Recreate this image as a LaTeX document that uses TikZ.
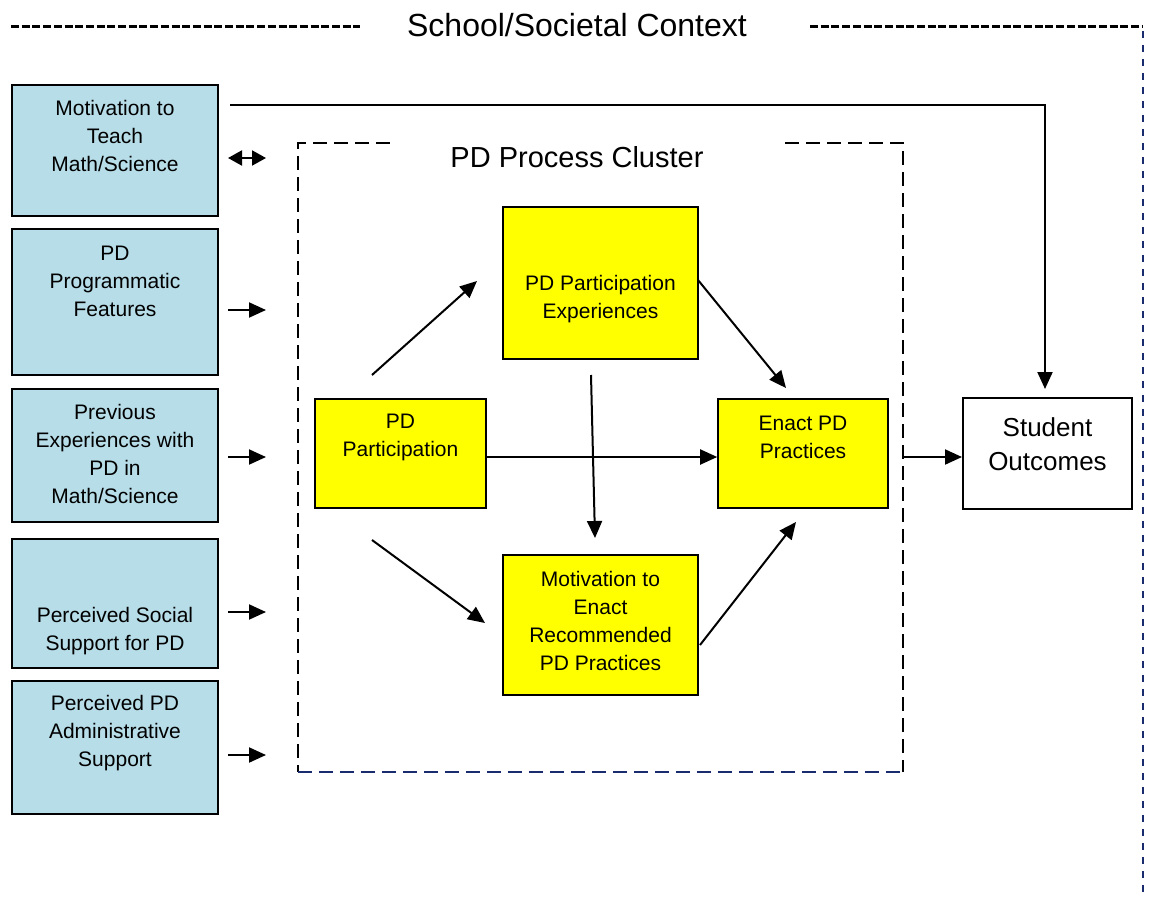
\documentclass[tikz,border=0pt]{standalone}
\usepackage{fontspec}
\setmainfont{Liberation Sans}
\usetikzlibrary{arrows.meta}
\definecolor{boxblue}{RGB}{183,221,232}
\definecolor{navyline}{RGB}{25,45,110}
\definecolor{yellowbox}{RGB}{255,255,0}
\begin{document}
\begin{tikzpicture}[x=1pt,y=-1pt,
  sidebox/.style={draw=black,line width=2pt,fill=boxblue,minimum width=206pt,inner sep=0pt},
  yelbox/.style={draw=black,line width=1.6pt,fill=yellowbox,inner sep=0pt},
  outbox/.style={draw=black,line width=2pt,fill=white,inner sep=0pt},
  boxtext/.style={align=center,inner sep=0pt,font=\fontsize{21}{28}\selectfont},
  arr/.style={line width=2pt,-{Triangle[length=17pt,width=15pt]}},
  dblarr/.style={line width=2pt,{Triangle[length=14pt,width=15pt]}-{Triangle[length=14pt,width=15pt]}},
  framedash/.style={line width=3pt,dash pattern=on 8pt off 2.7pt},
  sidedash/.style={line width=2.8pt,navyline,dash pattern=on 7pt off 7pt},
  clusterdash/.style={line width=2pt,dash pattern=on 14pt off 7pt},
]
\useasboundingbox (0,0) rectangle (1149,897);

% outer context frame
\node[font=\fontsize{32}{38}\selectfont,inner sep=0pt] (ctx) at (577,25) {School/Societal Context};
\draw[framedash] (11,26) -- (360,26);
\draw[framedash] (810,26) -- (1143,26);
\draw[sidedash] (1143,31) -- (1143,892);

% process cluster frame
\node[font=\fontsize{29}{34}\selectfont,inner sep=0pt] (pdc) at (577,157) {PD Process Cluster};
\draw[clusterdash] (390,143) -- (298,143) -- (298,772);
\draw[clusterdash] (785,143) -- (903,143) -- (903,772);
\draw[clusterdash,navyline] (298,772) -- (903,772);

% left-hand antecedent boxes
\node[sidebox,minimum height=131pt] (m1) at (115,150.5) {};
\node[boxtext] (m1t) at (115,136) {Motivation to\\Teach\\Math/Science};
\node[sidebox,minimum height=146pt] (m2) at (115,302) {};
\node[boxtext] (m2t) at (115,281) {PD\\Programmatic\\Features};
\node[sidebox,minimum height=133pt] (m3) at (115,455.5) {};
\node[boxtext] (m3t) at (115,454) {Previous\\Experiences with\\PD in\\Math/Science};
\node[sidebox,minimum height=129pt] (m4) at (115,603.5) {};
\node[boxtext] (m4t) at (115,631) {Perceived Social\\Support for PD};
\node[sidebox,minimum height=133pt] (m5) at (115,747.5) {};
\node[boxtext] (m5t) at (115,733) {Perceived PD\\Administrative\\Support};

% process boxes
\node[yelbox,minimum width=171pt,minimum height=109pt] (pp) at (400.5,453.5) {};
\node[boxtext] (ppt) at (400.5,437.5) {PD\\Participation};
\node[yelbox,minimum width=195pt,minimum height=152pt] (ppe) at (600.5,283) {};
\node[boxtext] (ppet) at (600.5,299.5) {PD Participation\\Experiences};
\node[yelbox,minimum width=170pt,minimum height=109pt] (enact) at (803,453.5) {};
\node[boxtext] (enactt) at (803,437.5) {Enact PD\\Practices};
\node[yelbox,minimum width=195pt,minimum height=140pt] (mot) at (600.5,625) {};
\node[boxtext] (mott) at (600.5,620.5) {Motivation to\\Enact\\Recommended\\PD Practices};

% outcome box
\node[outbox,minimum width=169pt,minimum height=111pt] (so) at (1047.5,453.5) {};
\node[boxtext,font=\fontsize{26}{34}\selectfont] (sot) at (1047.5,444.5) {Student\\Outcomes};

% connector end points
\coordinate (a1s) at (228,158);  \coordinate (a1e) at (266,158);
\coordinate (a2s) at (228,310);  \coordinate (a2e) at (266,310);
\coordinate (a3s) at (228,457);  \coordinate (a3e) at (266,457);
\coordinate (a4s) at (228,612);  \coordinate (a4e) at (266,612);
\coordinate (a5s) at (228,755);  \coordinate (a5e) at (266,755);
\coordinate (ppup) at (372,375);   \coordinate (ppeleft) at (477,281);
\coordinate (ppdn) at (372,540);   \coordinate (motleft) at (485,623);
\coordinate (ppeout) at (698,280); \coordinate (enactup) at (786,388);
\coordinate (ppebot) at (591,375); \coordinate (mottop) at (595,538);
\coordinate (motout) at (700,645); \coordinate (enactdn) at (796,522);
\coordinate (clout) at (903,457);
\coordinate (m1out) at (230,105);  \coordinate (corner) at (1045,105);
\coordinate (sotop) at (1045,389);

% connectors
\draw[dblarr] (a1s) -- (a1e);
\draw[arr] (a2s) -- (a2e);
\draw[arr] (a3s) -- (a3e);
\draw[arr] (a4s) -- (a4e);
\draw[arr] (a5s) -- (a5e);
\draw[arr] (ppup) -- (ppeleft);
\draw[arr] (ppdn) -- (motleft);
\draw[arr] ([yshift=-3.5pt]pp.east) -- ([yshift=-3.5pt]enact.west);
\draw[arr] (ppeout) -- (enactup);
\draw[arr] (ppebot) -- (mottop);
\draw[arr] (motout) -- (enactdn);
\draw[arr] (clout) -- ([yshift=-3.5pt]so.west);
\draw[arr] (m1out) -- (corner) -- (sotop);
\end{tikzpicture}
\end{document}
